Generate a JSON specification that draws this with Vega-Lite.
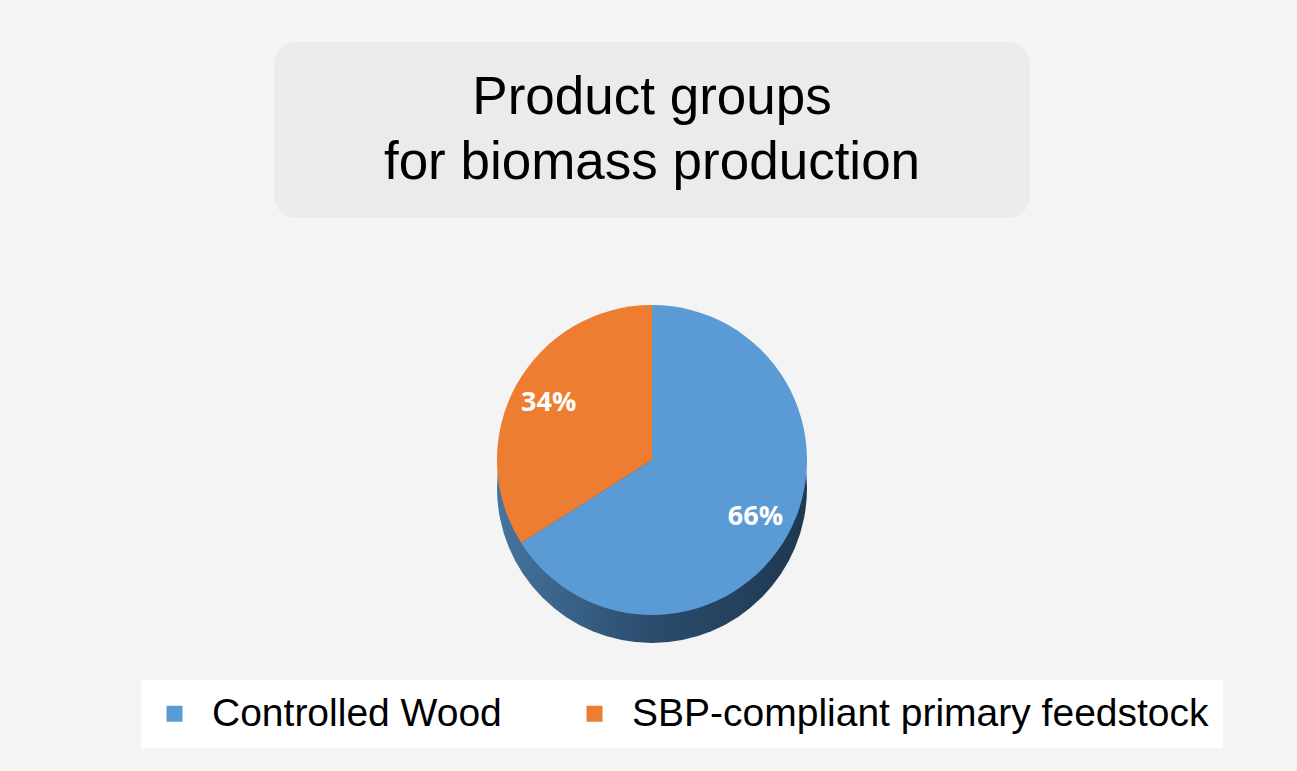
{
  "$schema": "https://vega.github.io/schema/vega-lite/v6.json",
  "background": "#f4f4f4",
  "padding": {"left": 141, "top": 42, "right": 78, "bottom": 25},
  "config": {"view": {"stroke": null}, "font": "Liberation Sans"},
  "spacing": 0,
  "vconcat": [
    {
      "width": 756,
      "height": 176,
      "view": {"fill": "#ebebeb", "cornerRadius": 22, "stroke": null},
      "data": {"values": [{"title": "Product groups\nfor biomass production"}]},
      "mark": {"type": "text", "fontSize": 53, "lineHeight": 65, "lineBreak": "\n", "align": "center", "baseline": "middle", "dy": -32, "color": "#000000", "font": "Liberation Sans"},
      "encoding": {"text": {"field": "title"}}
    },
    {
      "width": 756,
      "height": 484,
      "data": {"values": [
        {"group": "Controlled Wood", "share": 66, "label": "66%"},
        {"group": "SBP-compliant primary feedstock", "share": 34, "label": "34%"}
      ]},
      "layer": [
        {
          "mark": {"type": "arc", "radius": 155, "yOffset": 28, "stroke": null,
            "fill": {"gradient": "linear", "x1": 0, "y1": 0, "x2": 1, "y2": 0,
              "stops": [{"offset": 0, "color": "#45749f"}, {"offset": 0.5, "color": "#2b4c6d"}, {"offset": 1, "color": "#1f3850"}]}},
          "encoding": {
            "theta": {"aggregate": "sum", "field": "share", "type": "quantitative"}
          }
        },
        {
          "mark": {"type": "arc", "radius": 155, "stroke": null},
          "encoding": {
            "theta": {"field": "share", "type": "quantitative", "stack": true},
            "order": {"field": "share", "sort": "descending"},
            "color": {
              "field": "group", "type": "nominal",
              "scale": {"domain": ["Controlled Wood", "SBP-compliant primary feedstock"], "range": ["#5b9bd5", "#ed7d31"]},
              "legend": {
                "orient": "none", "legendX": -133, "legendY": 638,
                "direction": "horizontal", "title": null,
                "symbolType": "square", "symbolSize": 256, "symbolStrokeWidth": 0,
                "labelFontSize": 39, "labelFont": "Liberation Sans", "labelColor": "#000000",
                "labelOffset": 18, "columnPadding": 73, "labelLimit": 0,
                "fillColor": "#ffffff", "padding": 14
              }
            }
          }
        },
        {
          "mark": {"type": "text", "radius": 118, "fontSize": 27, "fontWeight": "bold", "font": "Open Sans", "fill": "#ffffff", "align": "center", "baseline": "middle"},
          "encoding": {
            "theta": {"field": "share", "type": "quantitative", "stack": true},
            "order": {"field": "share", "sort": "descending"},
            "text": {"field": "label"}
          }
        }
      ]
    }
  ]
}
